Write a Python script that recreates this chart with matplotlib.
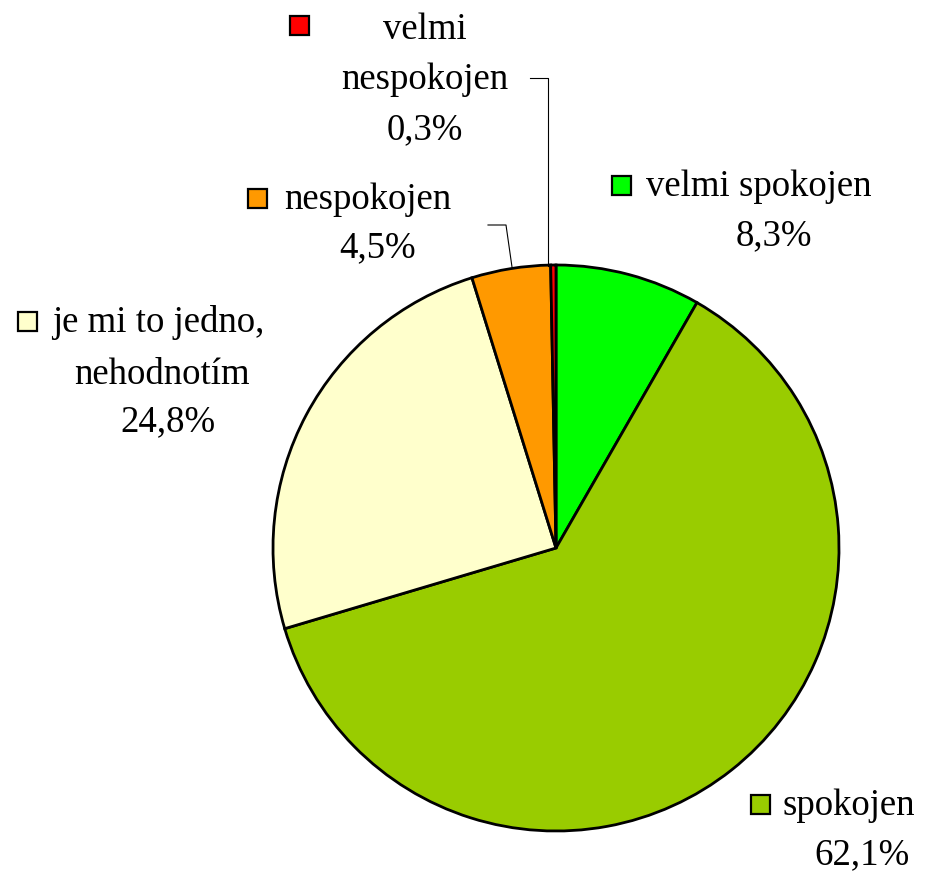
import matplotlib.pyplot as plt
from matplotlib.patches import Rectangle

# slices, clockwise from 12 o'clock
labels = ["velmi spokojen", "spokojen", "je mi to jedno, nehodnotím", "nespokojen", "velmi nespokojen"]
shares = [8.3, 62.1, 24.8, 4.5, 0.3]
colors = ["#00FF00", "#99CC00", "#FFFFCC", "#FF9900", "#FF0000"]

W, H = 943, 872
fig = plt.figure(figsize=(W / 100, H / 100), dpi=100)
ax = fig.add_axes([0, 0, 1, 1])
ax.set_xlim(0, W)
ax.set_ylim(0, H)
ax.axis("off")

ax.pie(shares, colors=colors, startangle=90, counterclock=False,
       center=(556, H - 548), radius=283,
       wedgeprops=dict(edgecolor="black", linewidth=2))
ax.set_xlim(0, W)
ax.set_ylim(0, H)
ax.set_aspect("equal")

font = dict(family="Liberation Serif", fontsize=26.5, color="black")


def pct(v):
    return ("%.1f%%" % v).replace(".", ",")


def key(x, y, c):
    # little legend square, (x, y) = top-left in pixel coords from top
    ax.add_patch(Rectangle((x, H - y - 19), 19, 19, facecolor=c,
                           edgecolor="black", linewidth=1.6, zorder=5))


def line(txt, x, y, ha="left"):
    ax.text(x, H - y, txt, ha=ha, va="center", **font)


# velmi spokojen
key(612, 176, colors[0])
line("velmi spokojen", 646, 187)
line(pct(shares[0]), 774, 236, ha="center")

# spokojen
key(751, 795, colors[1])
line("spokojen", 783, 806)
line(pct(shares[1]), 862, 855, ha="center")

# je mi to jedno
key(18, 312, colors[2])
line("je mi to jedno,", 52, 322)
line("nehodnotím", 162, 375, ha="center")
line(pct(shares[2]), 168, 422, ha="center")

# nespokojen
key(248, 189, colors[3])
line("nespokojen", 284, 200)
line(pct(shares[3]), 378, 248, ha="center")

# velmi nespokojen
key(290, 16, colors[4])
line("velmi", 425, 30, ha="center")
line("nespokojen", 425, 80, ha="center")
line(pct(shares[4]), 425, 130, ha="center")

# leader lines
ax.plot([488, 506, 512], [H - 225, H - 225, H - 267], color="black", linewidth=0.8)
ax.plot([530, 548, 548], [H - 78, H - 78, H - 266], color="black", linewidth=0.8)

fig.savefig("out.png", dpi=100)
